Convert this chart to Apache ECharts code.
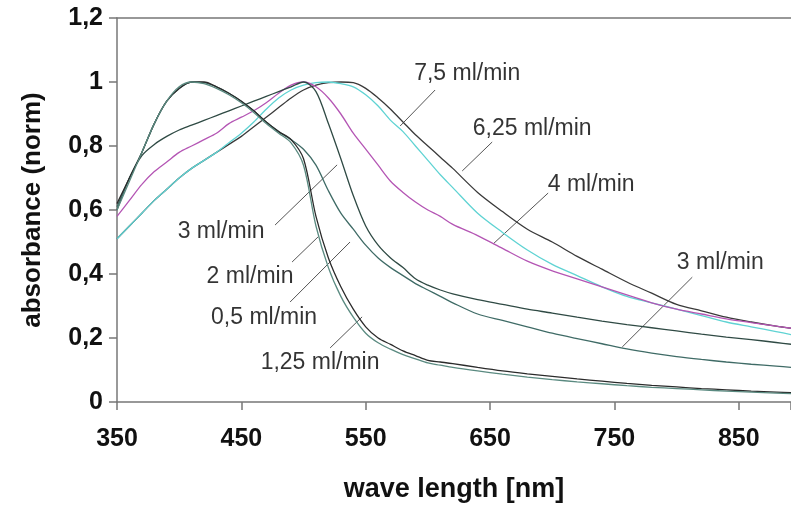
<!DOCTYPE html>
<html>
<head>
<meta charset="utf-8">
<script src="https://cdn.jsdelivr.net/npm/echarts@6/dist/echarts.min.js"></script>
<style>
  html, body { margin: 0; padding: 0; background: #fff; }
  #chart { width: 791px; height: 506px; }
</style>
</head>
<body>
<div id="chart"></div>
<script>
// wavelength samples (nm)
var wl = [350,360,370,380,390,400,410,420,430,440,450,460,470,480,490,500,510,520,530,540,
  550,560,570,580,590,600,610,620,640,660,680,700,720,740,760,780,800,820,840,860,880,893];

// normalised absorbance
var flow75 = [0.51,0.55,0.59,0.63,0.665,0.70,0.73,0.755,0.78,0.805,0.83,0.86,0.89,0.92,0.95,0.975,0.99,0.998,1.0,0.998,
  0.98,0.95,0.915,0.875,0.835,0.80,0.765,0.73,0.655,0.595,0.54,0.50,0.455,0.415,0.375,0.34,0.305,0.285,0.265,0.25,0.237,0.23];
var flow625 = [0.51,0.55,0.59,0.63,0.665,0.70,0.73,0.755,0.78,0.81,0.84,0.875,0.915,0.95,0.975,0.99,0.998,1.0,0.995,0.985,
  0.96,0.925,0.88,0.845,0.80,0.755,0.71,0.67,0.59,0.53,0.475,0.43,0.395,0.36,0.33,0.31,0.29,0.27,0.25,0.235,0.22,0.21];
var flow4 = [0.58,0.63,0.68,0.72,0.75,0.78,0.80,0.82,0.84,0.87,0.89,0.91,0.935,0.965,0.99,1.0,0.985,0.95,0.90,0.84,
  0.79,0.74,0.69,0.655,0.625,0.60,0.58,0.555,0.52,0.48,0.44,0.41,0.385,0.36,0.335,0.31,0.29,0.275,0.26,0.248,0.237,0.23];
var flow3a = [0.60,0.70,0.77,0.805,0.83,0.85,0.865,0.88,0.895,0.91,0.925,0.94,0.955,0.97,0.985,1.0,0.97,0.87,0.76,0.645,
  0.55,0.49,0.45,0.42,0.385,0.365,0.35,0.338,0.32,0.305,0.29,0.278,0.265,0.253,0.242,0.232,0.222,0.212,0.203,0.195,0.186,0.18];
var flow3b = [0.61,0.70,0.78,0.87,0.94,0.98,1.0,0.998,0.985,0.965,0.94,0.91,0.875,0.845,0.82,0.79,0.74,0.66,0.59,0.54,
  0.49,0.45,0.42,0.395,0.37,0.35,0.33,0.31,0.275,0.255,0.235,0.215,0.198,0.182,0.166,0.153,0.142,0.133,0.125,0.118,0.112,0.108];
var flow2 = [0.62,0.70,0.78,0.87,0.94,0.98,1.0,1.0,0.985,0.965,0.94,0.91,0.875,0.845,0.82,0.76,0.58,0.45,0.36,0.29,
  0.235,0.20,0.18,0.16,0.145,0.13,0.125,0.12,0.108,0.097,0.088,0.08,0.072,0.065,0.058,0.052,0.047,0.042,0.038,0.034,0.031,0.029];
var flow125 = [0.60,0.69,0.78,0.87,0.94,0.985,1.0,0.995,0.98,0.96,0.935,0.905,0.87,0.84,0.81,0.74,0.55,0.42,0.33,0.265,
  0.215,0.185,0.165,0.148,0.135,0.122,0.115,0.108,0.097,0.087,0.078,0.07,0.063,0.057,0.051,0.046,0.042,0.038,0.034,0.031,0.028,0.026];

var yTicks = [0, 0.2, 0.4, 0.6, 0.8, 1, 1.2];
var xTicks = [350, 450, 550, 650, 750, 850];

// callout texts with label position and leader line ends (data units)
var calloutText = ['7,5 ml/min','6,25 ml/min','4 ml/min','3 ml/min','3 ml/min','2 ml/min','0,5 ml/min','1,25 ml/min'];
var calloutAt = [[631.6,1.025],[683.9,0.853],[731.3,0.678],[835.1,0.434],[433.7,0.531],[457.0,0.391],[468.3,0.2625],[513.3,0.122]];
var leaderFrom = [[605.8,0.975],[651.7,0.8125],[696.7,0.653],[812.6,0.39],[477.1,0.553],[490.8,0.4375],[489.2,0.3125],[521.4,0.169]];
var leaderTo = [[577.7,0.8625],[627.6,0.722],[652.5,0.494],[756.3,0.172],[527.0,0.741],[511.7,0.516],[537.4,0.5],[547.1,0.266]];

function pairs(vals) {
  return wl.map(function (w, i) { return [w, vals[i]]; });
}

var curves = [
  { data: flow75, color: '#3a3a3a' },
  { data: flow625, color: '#5fd3d3' },
  { data: flow4, color: '#b455b4' },
  { data: flow3a, color: '#2f4a44' },
  { data: flow3b, color: '#3f6b66' },
  { data: flow2, color: '#2b2b2b' },
  { data: flow125, color: '#5a8a80' }
];

var font = 'Liberation Sans, Arial, sans-serif';
var axisCol = '#777';

var series = curves.map(function (c) {
  return {
    type: 'line',
    data: pairs(c.data),
    showSymbol: false,
    smooth: 0.3,
    lineStyle: { color: c.color, width: 1.3 },
    silent: true
  };
});

series.push({
  type: 'lines',
  coordinateSystem: 'cartesian2d',
  silent: true,
  lineStyle: { color: '#555', width: 1, opacity: 1 },
  data: leaderFrom.map(function (p, i) { return { coords: [p, leaderTo[i]] }; })
});

series.push({
  type: 'scatter',
  symbolSize: 0,
  silent: true,
  label: {
    show: true,
    position: 'inside',
    formatter: '{b}',
    fontFamily: font,
    fontSize: 23,
    color: '#000'
  },
  data: calloutAt.map(function (p, i) { return { name: calloutText[i], value: p }; })
});

var chart = echarts.init(document.getElementById('chart'));
chart.setOption({
  animation: false,
  backgroundColor: '#fff',
  grid: { left: 117, right: 0, top: 18, bottom: 104, outerBoundsMode: 'none', containLabel: false },
  xAxis: [{
    type: 'value',
    min: 350,
    max: 892,
    interval: 100,
    splitLine: { show: false },
    axisLine: { lineStyle: { color: axisCol, width: 1.5 } },
    axisTick: { inside: false, length: 8, lineStyle: { color: axisCol, width: 1.5 } },
    axisLabel: {
      margin: 25, fontFamily: font, fontWeight: 'bold', fontSize: 25, color: '#111',
      formatter: function (v) { return xTicks.indexOf(Math.round(v)) < 0 ? '' : String(Math.round(v)); }
    },
    name: 'wave length [nm]',
    nameLocation: 'middle',
    nameGap: 74,
    nameTextStyle: { fontFamily: font, fontWeight: 'bold', fontSize: 27, color: '#111' }
  }, {
    type: 'value',
    position: 'top',
    min: 350,
    max: 892,
    splitLine: { show: false },
    axisTick: { show: false },
    axisLabel: { show: false },
    axisLine: { show: true, lineStyle: { color: axisCol, width: 1.5 } }
  }],
  yAxis: {
    type: 'value',
    min: 0,
    max: 1.2,
    interval: 0.2,
    splitLine: { show: false },
    axisLine: { show: true, lineStyle: { color: axisCol, width: 1.5 } },
    axisTick: { show: true, inside: false, length: 8, lineStyle: { color: axisCol, width: 1.5 } },
    axisLabel: {
      margin: 14,
      fontFamily: font,
      fontWeight: 'bold',
      fontSize: 25,
      color: '#111',
      formatter: function (v) {
        var i = yTicks.indexOf(Math.round(v * 10) / 10);
        return i < 0 ? '' : String(yTicks[i]).replace('.', ',');
      }
    },
    name: 'absorbance (norm)',
    nameLocation: 'middle',
    nameGap: 71,
    nameTextStyle: { fontFamily: font, fontWeight: 'bold', fontSize: 26, color: '#111' }
  },
  series: series
});
</script>
</body>
</html>
